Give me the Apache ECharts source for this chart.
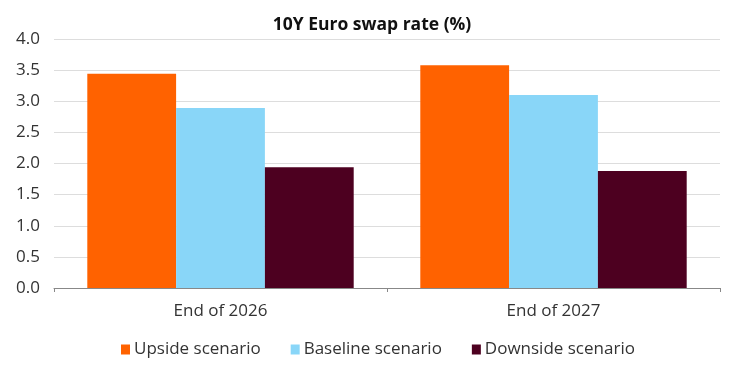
<!DOCTYPE html>
<html><head><meta charset="utf-8">
<script src="https://cdn.jsdelivr.net/npm/echarts@6/dist/echarts.min.js"></script>
<style>html,body{margin:0;padding:0;background:#fff}#c{width:744px;height:371px}</style>
</head><body><div id="c"></div>
<script>
const categories = ['End of 2026', 'End of 2027'];
const upside = [3.44, 3.58];
const baseline = [2.89, 3.10];
const downside = [1.94, 1.88];
const seriesNames = ['Upside scenario', 'Baseline scenario', 'Downside scenario'];
const colors = ['#FF6200', '#89D6F8', '#4D0020'];
const font = 'Open Sans';
const chart = echarts.init(document.getElementById('c'));
chart.setOption({
  animation: false,
  color: colors,
  title: { text: '10Y Euro swap rate (%)', left: 'center', top: 11,
    textStyle: { fontFamily: font, fontSize: 17.5, fontWeight: 'bold', color: '#111' } },
  legend: { left: 116, top: 336, itemWidth: 9, itemHeight: 10, itemGap: 30, icon: 'rect',
    textStyle: { fontFamily: font, fontSize: 17, color: '#333', padding: [0, 0, 0, -1] } },
  grid: { left: 54, right: 24, top: 39, bottom: 83 },
  xAxis: { type: 'category', data: categories,
    axisLine: { lineStyle: { color: '#888' } },
    axisTick: { show: true, length: 4, lineStyle: { color: '#888' } },
    axisLabel: { fontFamily: font, fontSize: 17, color: '#333', margin: 15 } },
  yAxis: { type: 'value', min: 0, max: 4, interval: 0.5,
    axisLabel: { fontFamily: font, fontSize: 17, color: '#333', margin: 14, formatter: v => v.toFixed(1) },
    splitLine: { lineStyle: { color: '#dddddd' } },
    axisLine: { show: false }, axisTick: { show: false } },
  series: [
    { name: seriesNames[0], type: 'bar', data: upside, barGap: 0, barCategoryGap: '20%' },
    { name: seriesNames[1], type: 'bar', data: baseline },
    { name: seriesNames[2], type: 'bar', data: downside }
  ]
});
</script></body></html>
